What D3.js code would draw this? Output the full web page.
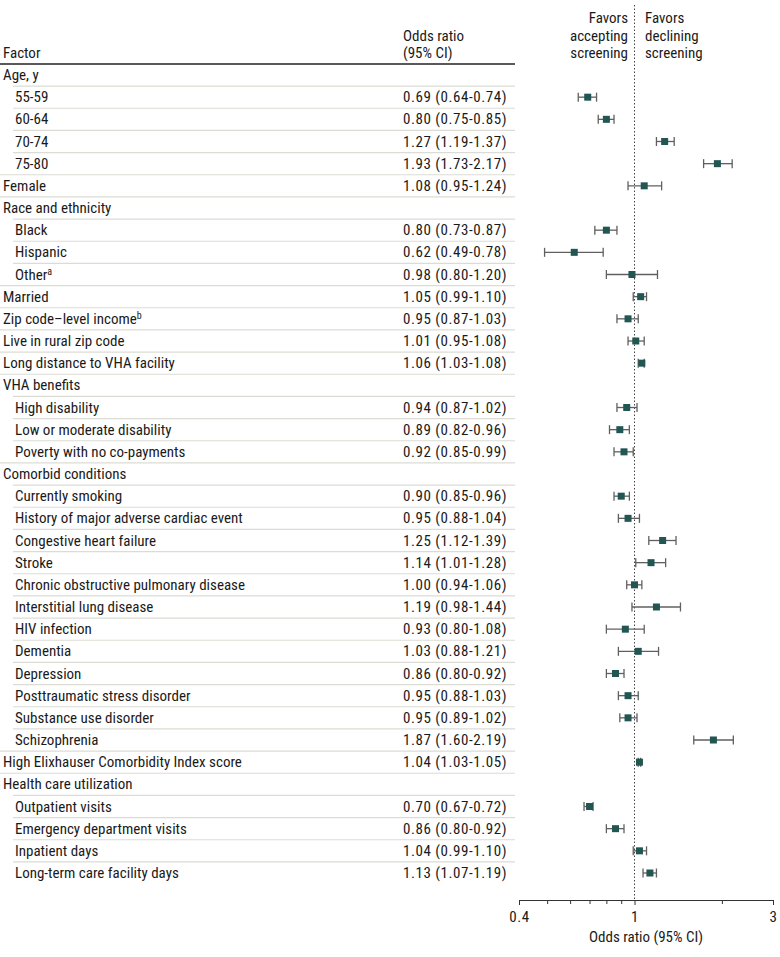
<!DOCTYPE html>
<html><head><meta charset="utf-8">
<script src="https://cdn.jsdelivr.net/npm/d3@7"></script>
<style>
body{margin:0;background:#fff;}
text{font-family:"Roboto Condensed","DejaVu Sans Condensed",sans-serif;fill:#1a1a1a;}
</style></head><body>
<svg id="chart" width="780" height="957"></svg>
<script>
const factors = ["Age, y","55-59","60-64","70-74","75-80","Female","Race and ethnicity","Black","Hispanic","Other","Married","Zip code–level income","Live in rural zip code","Long distance to VHA facility","VHA benefits","High disability","Low or moderate disability","Poverty with no co-payments","Comorbid conditions","Currently smoking","History of major adverse cardiac event","Congestive heart failure","Stroke","Chronic obstructive pulmonary disease","Interstitial lung disease","HIV infection","Dementia","Depression","Posttraumatic stress disorder","Substance use disorder","Schizophrenia","High Elixhauser Comorbidity Index score","Health care utilization","Outpatient visits","Emergency department visits","Inpatient days","Long-term care facility days"];
const superscripts = {"Other":"a","Zip code–level income":"b"};
const indented = [0,1,1,1,1,0,0,1,1,1,0,0,0,0,0,1,1,1,0,1,1,1,1,1,1,1,1,1,1,1,1,0,0,1,1,1,1];
const oddsRatio = [null,0.69,0.80,1.27,1.93,1.08,null,0.80,0.62,0.98,1.05,0.95,1.01,1.06,null,0.94,0.89,0.92,null,0.90,0.95,1.25,1.14,1.00,1.19,0.93,1.03,0.86,0.95,0.95,1.87,1.04,null,0.70,0.86,1.04,1.13];
const ciLow = [null,0.64,0.75,1.19,1.73,0.95,null,0.73,0.49,0.80,0.99,0.87,0.95,1.03,null,0.87,0.82,0.85,null,0.85,0.88,1.12,1.01,0.94,0.98,0.80,0.88,0.80,0.88,0.89,1.60,1.03,null,0.67,0.80,0.99,1.07];
const ciHigh = [null,0.74,0.85,1.37,2.17,1.24,null,0.87,0.78,1.20,1.10,1.03,1.08,1.08,null,1.02,0.96,0.99,null,0.96,1.04,1.39,1.28,1.06,1.44,1.08,1.21,0.92,1.03,1.02,2.19,1.05,null,0.72,0.92,1.10,1.19];
const majorTicks = [0.4,1,3];
const minorTicks = [0.5,0.6,0.7,0.8,0.9,2];

const svg = d3.select("#chart");
const fmt = d3.format(".2f");
const x = d3.scaleLog().domain([0.4,3]).range([519,773]);
const y = d3.scaleLinear().domain([0, factors.length-1]).range([75, 873]);
const step = y(1)-y(0);
const fs = 15;
const numSpacing = 0.55;

// header
svg.append("text").attr("x",3).attr("y",58).attr("font-size",fs).text("Factor");
svg.append("text").attr("x",403).attr("y",41).attr("font-size",fs).text("Odds ratio");
svg.append("text").attr("x",403).attr("y",58).attr("font-size",fs).text("(95% CI)");
["Favors","accepting","screening"].forEach((t,i)=>svg.append("text").attr("x",628).attr("y",23+i*17.5).attr("text-anchor","end").attr("font-size",fs).text(t));
["Favors","declining","screening"].forEach((t,i)=>svg.append("text").attr("x",645).attr("y",23+i*17.5).attr("font-size",fs).text(t));
svg.append("line").attr("x1",0).attr("x2",515).attr("y1",64).attr("y2",64).attr("stroke","#222").attr("stroke-width",1.6);

// separators
factors.forEach((f,i)=>{
  if(i===0) return;
  const yy = y(i)-step/2;
  svg.append("line").attr("x1", indented[i]?13:0).attr("x2",515).attr("y1",yy).attr("y2",yy)
    .attr("stroke","#dcdcd4").attr("stroke-width",1.2);
});

// labels
factors.forEach((f,i)=>{
  const t = svg.append("text").attr("x", indented[i]?15:3).attr("y", y(i)+5).attr("font-size",fs).text(f);
  if(superscripts[f]) t.append("tspan").attr("font-size",10).attr("dy",-5).text(superscripts[f]);
  if(oddsRatio[i]!=null){
    svg.append("text").attr("x",403).attr("y",y(i)+5).attr("font-size",fs).attr("letter-spacing",numSpacing)
      .text(`${fmt(oddsRatio[i])} (${fmt(ciLow[i])}-${fmt(ciHigh[i])})`);
  }
});

// reference line
svg.append("line").attr("x1",x(1)).attr("x2",x(1)).attr("y1",5).attr("y2",900)
  .attr("stroke","#444").attr("stroke-width",1).attr("stroke-dasharray","1.5,2");

// CIs & points
const g = svg.append("g");
factors.forEach((f,i)=>{
  if(oddsRatio[i]==null) return;
  const yy = y(i);
  g.append("line").attr("x1",x(ciLow[i])).attr("x2",x(ciHigh[i])).attr("y1",yy).attr("y2",yy).attr("stroke","#606060").attr("stroke-width",1.3);
  [ciLow[i],ciHigh[i]].forEach(v=>g.append("line").attr("x1",x(v)).attr("x2",x(v)).attr("y1",yy-4.5).attr("y2",yy+4.5).attr("stroke","#606060").attr("stroke-width",1.3));
  g.append("rect").attr("x",x(oddsRatio[i])-3.5).attr("y",yy-3.5).attr("width",7).attr("height",7).attr("fill","#215652");
});

// axis
const ax = svg.append("g").attr("transform","translate(0,900)");
ax.call(d3.axisBottom(x).tickValues(majorTicks).tickFormat(d=>String(d)).tickSize(5).tickPadding(6));
ax.append("g").call(d3.axisBottom(x).tickValues(minorTicks).tickFormat("").tickSize(4)).select(".domain").remove();
ax.selectAll(".domain").attr("stroke","#333");
ax.selectAll(".tick line").attr("stroke","#333");
ax.attr("font-family",null).attr("font-size",null);
ax.selectAll(".tick text").attr("font-size",fs).attr("fill","#1a1a1a").attr("letter-spacing",numSpacing);
svg.append("text").attr("x",646).attr("y",942).attr("text-anchor","middle").attr("font-size",fs).text("Odds ratio (95% CI)");
</script></body></html>
